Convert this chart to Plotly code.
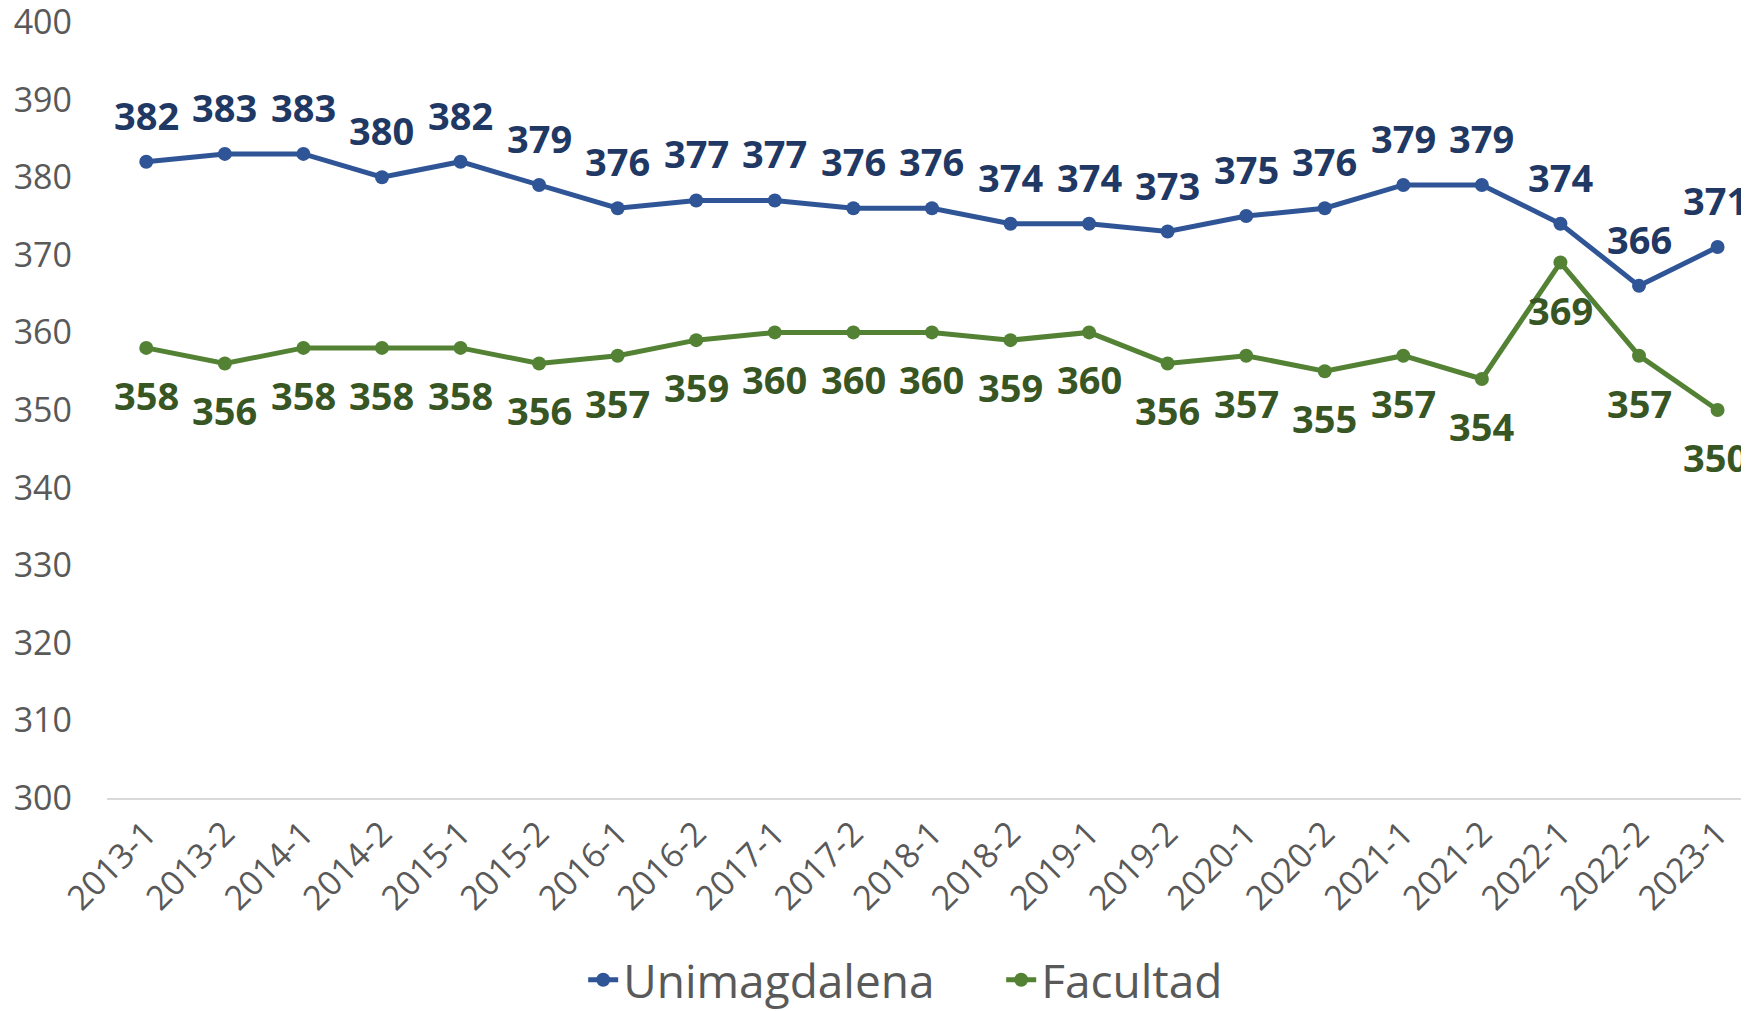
import plotly.graph_objects as go

periods = ["2013-1", "2013-2", "2014-1", "2014-2", "2015-1", "2015-2", "2016-1",
           "2016-2", "2017-1", "2017-2", "2018-1", "2018-2", "2019-1", "2019-2",
           "2020-1", "2020-2", "2021-1", "2021-2", "2022-1", "2022-2", "2023-1"]
unimagdalena = [382, 383, 383, 380, 382, 379, 376, 377, 377, 376, 376, 374, 374, 373,
                375, 376, 379, 379, 374, 366, 371]
facultad = [358, 356, 358, 358, 358, 356, 357, 359, 360, 360, 360, 359, 360, 356,
            357, 355, 357, 354, 369, 357, 350]
y_ticks = [300, 310, 320, 330, 340, 350, 360, 370, 380, 390, 400]

FONT = "Open Sans, sans-serif"
BLUE_LINE = "#2F5597"
BLUE_TEXT = "#1F3864"
GREEN_LINE = "#548235"
GREEN_TEXT = "#375623"

fig = go.Figure()
fig.add_trace(go.Scatter(x=periods, y=unimagdalena, name="Unimagdalena", mode="lines+markers",
                         line=dict(color=BLUE_LINE, width=5), marker=dict(size=14, color=BLUE_LINE)))
fig.add_trace(go.Scatter(x=periods, y=facultad, name="Facultad", mode="lines+markers",
                         line=dict(color=GREEN_LINE, width=5), marker=dict(size=14, color=GREEN_LINE)))

n = len(periods)
for series, color, shift in ((unimagdalena, BLUE_TEXT, 47), (facultad, GREEN_TEXT, -47)):
    for i, (p, v) in enumerate(zip(periods, series)):
        last = i == n - 1
        fig.add_annotation(x=p, y=v, text=str(v), showarrow=False,
                           xanchor="right" if last else "center", xshift=32 if last else 0,
                           yanchor="middle", yshift=shift,
                           font=dict(family=FONT, size=38, color=color, weight="bold"))

fig.update_layout(
    width=1741, height=1003,
    margin=dict(l=99, r=0, t=14, b=213),
    paper_bgcolor="white", plot_bgcolor="white",
    font=dict(family=FONT, color="#595959"),
    showlegend=True,
    legend=dict(orientation="h", x=0.290, xanchor="left", yref="container", y=0.031,
                yanchor="middle", font=dict(size=46, color="#595959"),
                entrywidth=373, entrywidthmode="pixels"),
    xaxis=dict(type="category", range=[-0.5, 20.4], tickangle=-45, showgrid=False,
               showline=True, linecolor="#D9D9D9", linewidth=2, ticks="", automargin=False,
               tickfont=dict(size=34, color="#595959"), zeroline=False),
    yaxis=dict(range=[300, 400], tickvals=y_ticks, showgrid=False, showline=False, ticks="",
               automargin=False, tickfont=dict(size=34, color="#595959"), zeroline=False,
               ticklabelstandoff=34, ticklabeloverflow="allow"),
)

fig.write_html("out.html")
